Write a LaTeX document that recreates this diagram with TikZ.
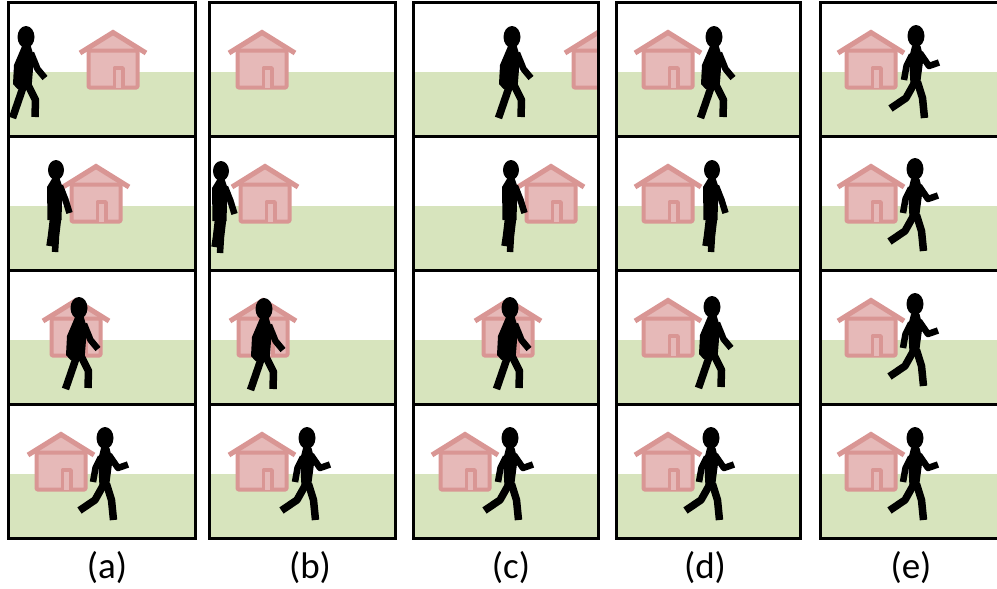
\documentclass[tikz,border=0pt]{standalone}
\usepackage{fontspec}
\setmainfont{Carlito}
\definecolor{grass}{HTML}{D7E4BD}
\definecolor{wall}{HTML}{E6B9B8}
\definecolor{trim}{HTML}{D99694}
\tikzset{
  houseedge/.style={draw=trim, fill=wall, line join=round},
  limb/.style={draw=black, line width=6.5pt, line cap=butt, line join=round},
  leg/.style={limb, line width=7.5pt},
  frame/.style={draw=black, line width=3pt},
  caption/.style={font=\fontsize{37}{40}\selectfont, inner sep=0pt},
  % small house, origin at the bottom centre of its walls
  house/.pic={
    \fill[wall] (-29,-39) -- (0,-57) -- (29,-39) -- cycle;
    \draw[trim, line width=5pt, line join=miter] (-33,-36.5) -- (0,-57) -- (33,-36.5);
    \draw[houseedge, line width=4pt, rounded corners=1pt] (-24.5,-39) rectangle (24.5,-2);
    \draw[houseedge, line width=3.5pt] (1.6,-2) -- (1.6,-21.5) -- (10,-21.5) -- (10,-2);
  },
  % walker, origin at the centre of the head
  walkA/.pic={
    \fill (0,0) ellipse [x radius=8.5pt, y radius=11pt];
    \fill (-3.5,8) -- (4.5,8) -- (8,20) -- (5.5,51) -- (-8.5,52) -- (-13,47) -- (-12,28) -- cycle;
    \draw[limb] (5,16) -- (11.5,32) -- (19,41);
    \draw[leg] (-2.5,49) -- (-13.5,81);
    \draw[leg] (2.5,49) -- (9.5,63) -- (9,80);
  },
  walkB/.pic={
    \fill (0,0) ellipse [x radius=8.5pt, y radius=11pt];
    \fill (-4,10) -- (4.5,10) -- (7.5,22) -- (4,49) -- (-5.5,49) -- (-7,22) -- cycle;
    \draw[limb] (-4,19) -- (-9.5,30) -- (-12,44);
    \draw[limb] (4,17) -- (13,30) -- (23,26.5);
    \draw[leg] (-1,46) -- (-10,62) -- (-25.5,72.5);
    \draw[leg] (1.5,46) -- (6.5,62) -- (8.5,82);
  },
  stand/.pic={
    \fill (0,0) ellipse [x radius=8pt, y radius=10pt];
    \fill (-3.5,8) -- (3.5,8) -- (6.5,17) -- (5.5,50) -- (-8.5,50) -- (-9,17) -- cycle;
    \draw[limb] (4,16) -- (9.5,30) -- (13.5,43);
    \draw[limb] (-3,49) -- (-5,66) -- (-6.5,76);
    \draw[limb] (2,49) -- (0,66) -- (-1,82);
  },
  nobody/.pic={},
}
\begin{document}
\begin{tikzpicture}[x=1pt,y=-1pt]
  \useasboundingbox (0,0) rectangle (997,589);
  \clip (0,0) rectangle (997,589);
  % frames: left/right/top/house x/walker x/walker y/pose
  \foreach \l/\r/\t/\hx/\fx/\fy/\pose in {
      8/195/2/113/26/37/walkA,
      8/195/136/96/56/170/stand,
      8/195/270/76/79/308/walkA,
      8/195/404/61/105/438/walkB,
      209/395/2/262/0/0/nobody,
      209/395/136/265/221/171/stand,
      209/395/270/263/264/309/walkA,
      209/395/404/262/307/438/walkB,
      413/598/2/598/512/37/walkA,
      413/598/136/551/511/170/stand,
      413/598/270/508/510/308/walkA,
      413/598/404/465/510/438/walkB,
      616/800/2/668/714/37/walkA,
      616/800/136/668/712/170/stand,
      616/800/270/668/712/307/walkA,
      616/800/404/668/711/438/walkB,
      820/1010/2/871/916/36/walkB,
      820/1010/136/871/915/169/walkB,
      820/1010/270/871/915/304/walkB,
      820/1010/404/871/915/438/walkB}
  {
    \begin{scope}
      \clip (\l,\t) rectangle (\r,\t+134);
      \fill[white] (\l,\t) rectangle (\r,\t+134);
      \fill[grass] (\l,\t+70) rectangle (\r,\t+134);
      \pic at (\hx,\t+87.5) {house};
      \pic at (\fx,\fy) {\pose};
    \end{scope}
  }
  % column borders and row dividers
  \foreach \l/\r in {8/195, 209/395, 413/598, 616/800, 820/1010} {
    \draw[frame] (\l,2) rectangle (\r,538);
    \foreach \y in {136,270,404} \draw[frame] (\l,\y) -- (\r,\y);
  }
  % captions
  \foreach \x/\n in {107/a, 310/b, 511/c, 705/d, 911/e}
    \node[caption] (lab\n) at (\x,568) {(\n)};
\end{tikzpicture}
\end{document}
